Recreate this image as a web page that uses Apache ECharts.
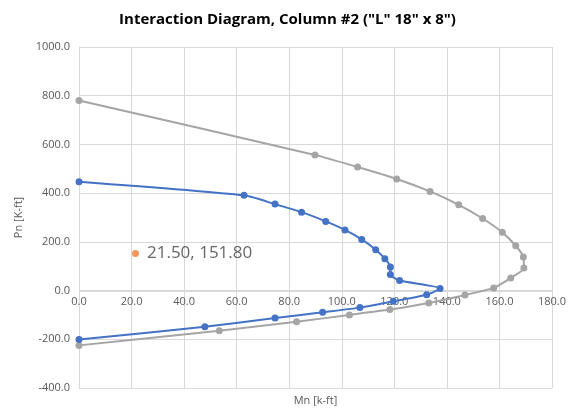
<!DOCTYPE html>
<html>
<head>
<meta charset="utf-8">
<script src="https://cdn.jsdelivr.net/npm/echarts@6/dist/echarts.min.js"></script>
<style>
  html, body { margin: 0; padding: 0; background: #fff; }
  #main { width: 575px; height: 409px; }
</style>
</head>
<body>
<div id="main"></div>
<script>
// Mn [k-ft], Pn [k] pairs
var blueMn = [0, 62.8, 74.6, 84.7, 93.9, 101.2, 107.6, 112.9, 116.4, 118.5, 118.5, 122.0, 137.4, 132.3, 119.6, 106.9, 92.7, 74.6, 47.9, 0];
var bluePn = [447, 391, 355, 322, 284, 249, 210, 168, 131, 97, 66, 41, 9, -17, -44, -70, -89, -113, -149, -201];
var grayMn = [0, 89.8, 106.0, 120.9, 133.6, 144.5, 153.6, 161.1, 166.2, 169.1, 169.3, 164.3, 157.8, 146.9, 133.1, 118.3, 102.9, 82.8, 53.4, 0];
var grayPn = [780, 557, 507, 458, 407, 352, 296, 239, 184, 138, 93, 52, 11, -18, -51, -78, -100, -128, -165, -225];
var loadPoint = [21.50, 151.80];

var pairs = function(xs, ys) {
    var out = [];
    for (var i = 0; i < xs.length; i++) {
        out.push([xs[i], ys[i]]);
    }
    return out;
};

var chart = echarts.init(document.getElementById('main'));
var axisText = { color: '#595959', fontSize: 11, fontFamily: 'Open Sans' };
var gridLine = { lineStyle: { color: '#d9d9d9', width: 1 } };

chart.setOption({
    animation: false,
    title: {
        text: 'Interaction Diagram, Column #2 ("L" 18" x 8")',
        left: 'center',
        top: 7,
        textStyle: { fontFamily: 'Open Sans', fontWeight: 'bold', fontSize: 15, color: '#000' }
    },
    grid: { left: 79, right: 23, top: 47, bottom: 21, outerBoundsMode: 'none' },
    xAxis: {
        type: 'value',
        min: 0,
        max: 180,
        interval: 20,
        position: 'bottom',
        offset: -97, // axis crosses at Pn = 0 (-400..0 is 97px)
        name: 'Mn [k-ft]',
        nameLocation: 'middle',
        nameGap: 104,
        nameTextStyle: axisText,
        axisLine: { onZero: false, lineStyle: { color: '#d9d9d9' } },
        axisTick: { show: false },
        axisLabel: Object.assign({ margin: 5, formatter: function(v) { return v.toFixed(1); } }, axisText),
        splitLine: gridLine
    },
    yAxis: {
        type: 'value',
        min: -400,
        max: 1000,
        interval: 200,
        name: 'Pn [K-ft]',
        nameLocation: 'middle',
        nameGap: 42,
        nameTextStyle: axisText,
        axisLine: { show: true, onZero: false, lineStyle: { color: '#d9d9d9' } },
        axisTick: { show: false },
        axisLabel: Object.assign({ margin: 9, formatter: function(v) { return v.toFixed(1); } }, axisText),
        splitLine: gridLine
    },
    series: [{
        type: 'line',
        data: pairs(grayMn, grayPn),
        smooth: 0.2,
        symbol: 'circle',
        symbolSize: 7,
        lineStyle: { color: '#a5a5a5', width: 2 },
        itemStyle: { color: '#a5a5a5' }
    }, {
        type: 'line',
        data: pairs(blueMn, bluePn),
        smooth: 0.2,
        symbol: 'circle',
        symbolSize: 7,
        lineStyle: { color: '#4472c4', width: 2 },
        itemStyle: { color: '#4472c4' }
    }, {
        type: 'scatter',
        data: [loadPoint],
        symbolSize: 7,
        itemStyle: { color: '#ed7d31' },
        label: {
            show: true,
            position: 'right',
            distance: 8,
            formatter: function(p) { return p.value[0].toFixed(2) + ', ' + p.value[1].toFixed(2); },
            color: '#404040',
            fontSize: 17,
            fontFamily: 'Open Sans'
        }
    }]
});
</script>
</body>
</html>
